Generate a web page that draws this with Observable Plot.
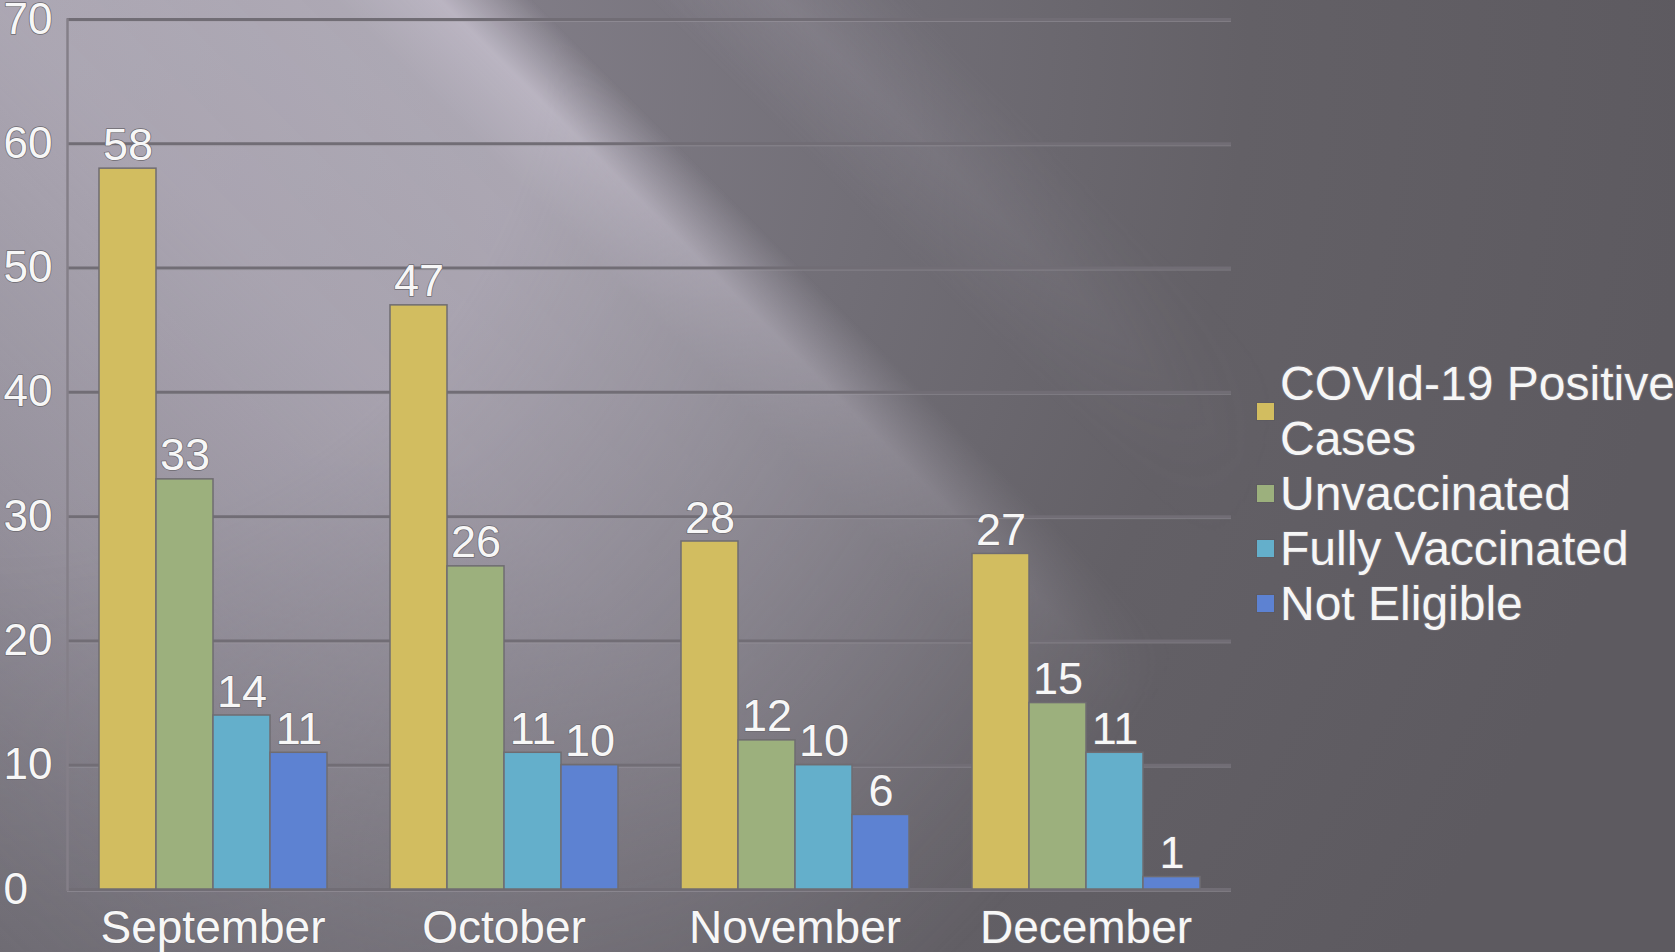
<!DOCTYPE html>
<html>
<head>
<meta charset="utf-8">
<script src="https://cdn.jsdelivr.net/npm/d3@7"></script>
<script src="https://cdn.jsdelivr.net/npm/@observablehq/plot@0.6"></script>
<style>
  html, body { margin: 0; padding: 0; }
  body {
    width: 1675px; height: 952px; overflow: hidden; position: relative;
    font-family: "Liberation Sans", Arial, sans-serif;
    background: radial-gradient(circle at 0 0, #8b8791 0px, #817d87 500px, #716e76 900px, #636066 1250px, #5d5a60 1700px);
  }
  #bg {
    position: absolute; left: 0; top: 0; width: 1675px; height: 952px;
    background: linear-gradient(45deg,
      rgba(196,190,204,0) 0%, rgba(196,190,204,0.32) 18%, rgba(196,190,204,0.58) 36%,
      rgba(200,195,208,0.6) 49%, rgba(208,202,216,0.72) 53%, rgba(196,190,204,0) 56.5%,
      rgba(196,190,204,0) 61%, rgba(196,190,204,0.24) 66%, rgba(196,190,204,0) 71%);
    -webkit-mask-image: radial-gradient(circle at 0 0, #000 0px, #000 550px, rgba(0,0,0,0.5) 950px, rgba(0,0,0,0) 1350px);
    mask-image: radial-gradient(circle at 0 0, #000 0px, #000 550px, rgba(0,0,0,0.5) 950px, rgba(0,0,0,0) 1350px);
  }
  #chart { position: absolute; left: 0; top: 0; }
  #legend { position: absolute; left: 1257px; top: 356px; color: #f6f6f6; font-size: 48px; line-height: 55px; }
  .item { display: flex; align-items: center; }
  .sw { width: 17px; height: 17px; flex: none; margin-right: 6px; box-shadow: 0 0 0 1px rgba(90,88,94,0.6); }
  .lab { max-width: 420px; white-space: normal;
         text-shadow: 1px 1px 0 #6b686e, -1px -1px 0 #6b686e, 1px -1px 0 #6b686e, -1px 1px 0 #6b686e; }
</style>
</head>
<body>
<div id="bg"></div>
<div id="chart"></div>
<div id="legend"></div>
<script>
const months = ["September", "October", "November", "December"];
const series = ["COVId-19 Positive Cases", "Unvaccinated", "Fully Vaccinated", "Not Eligible"];
const colors = ["#d2bd60", "#9cb07d", "#64afcb", "#5d82d2"];
const positive = [58, 47, 28, 27];
const unvaccinated = [33, 26, 12, 15];
const fullyVaccinated = [14, 11, 10, 11];
const notEligible = [11, 10, 6, 1];
const yTicks = [0, 10, 20, 30, 40, 50, 60, 70];

const valuesBySeries = [positive, unvaccinated, fullyVaccinated, notEligible];
const data = [];
months.forEach((m, i) => {
  series.forEach((s, j) => data.push({month: m, series: s, value: valuesBySeries[j][i]}));
});

const textStroke = "#6d6a70";

const plot = Plot.plot({
  width: 1675,
  height: 952,
  marginLeft: 67,
  marginRight: 444,
  marginTop: 19,
  marginBottom: 63,
  style: {background: "transparent", fontFamily: "'Liberation Sans', Arial, sans-serif", overflow: "visible"},
  fx: {domain: months, padding: 0, label: null},
  x: {domain: series, paddingInner: 0, paddingOuter: 0.52, axis: null},
  y: {domain: [0, 70], label: null},
  color: {domain: series, range: colors},
  marks: [
    Plot.gridY(yTicks, {stroke: "#716d75", strokeOpacity: 1, strokeWidth: 3}),
    Plot.gridY(yTicks, {stroke: "#a29ea7", strokeOpacity: 0.45, strokeWidth: 1, dy: 2}),
    Plot.frame({anchor: "left", facetAnchor: "left", stroke: "#847f88", strokeWidth: 2.5}),
    Plot.barY(data, {fx: "month", x: "series", y: "value", fill: "series", stroke: "#6f6c71", strokeWidth: 1.5}),
    Plot.text(data, {fx: "month", x: "series", y: "value", text: d => String(d.value),
      lineAnchor: "bottom", dy: -9, fontSize: 45, fill: "#f7f7f7",
      stroke: textStroke, strokeWidth: 1.5, paintOrder: "stroke"}),
    Plot.axisY({ticks: yTicks, tickSize: 0, tickPadding: 64, textAnchor: "start",
      fontSize: 44, color: "#f7f7f7", textStroke: textStroke, textStrokeWidth: 1.5, label: null}),
    Plot.axisFx({anchor: "bottom", tickSize: 0, tickPadding: 21, fontSize: 46,
      color: "#f7f7f7", textStroke: textStroke, textStrokeWidth: 1.5, label: null})
  ]
});
document.getElementById("chart").appendChild(plot);

const legend = document.getElementById("legend");
series.forEach((s, i) => {
  const item = document.createElement("div");
  item.className = "item";
  const sw = document.createElement("div");
  sw.className = "sw";
  sw.style.background = colors[i];
  const lab = document.createElement("div");
  lab.className = "lab";
  lab.textContent = s;
  item.appendChild(sw);
  item.appendChild(lab);
  legend.appendChild(item);
});
</script>
</body>
</html>
